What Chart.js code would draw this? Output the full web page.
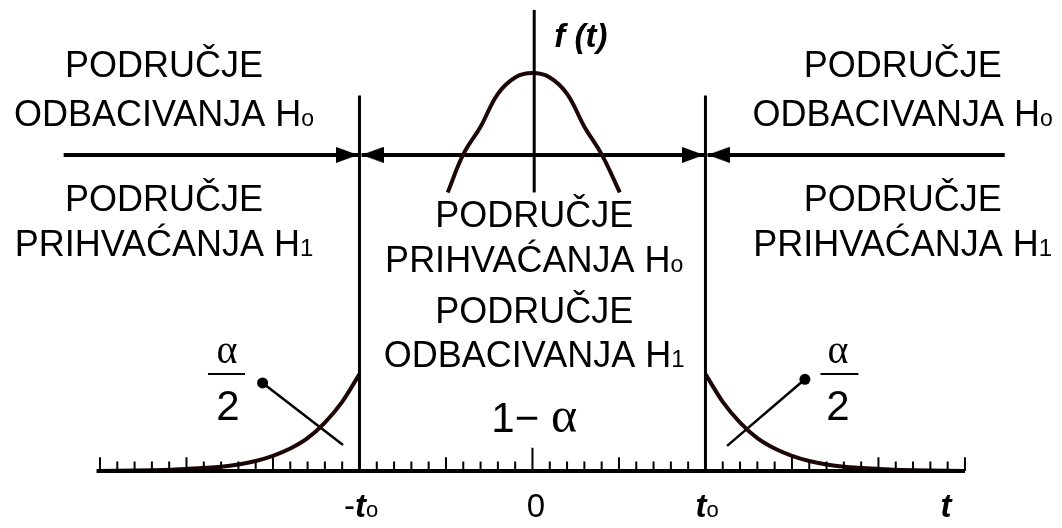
<!DOCTYPE html>
<html lang="hr">
<head>
    <meta charset="UTF-8">
    <title>Područje prihvaćanja i odbacivanja H0</title>
    <script src="https://cdn.jsdelivr.net/npm/chart.js"></script>
    <style>
        body { margin: 0; background: #fff; }
        #wrap { width: 1062px; height: 528px; }
    </style>
</head>
<body>
    <div id="wrap">
        <canvas id="tChart" width="1062" height="528"></canvas>
    </div>

    <script>
        // density curve (t in tick units, f in the same units)
        const centerT = [-4.9, -4, -3, -2, -1, 0, 1, 2, 3, 4, 5.05];
        const centerF = [16.1, 18.3, 19.9, 21.8, 22.75, 23.0, 22.75, 21.8, 19.9, 18.3, 16.1];

        const leftTailT = [-25, -22, -20, -18, -17, -16, -15, -14, -13, -12, -11, -10];
        const leftTailF = [0, 0.05, 0.12, 0.25, 0.38, 0.58, 0.88, 1.3, 1.9, 2.8, 4.0, 5.6];
        const rightTailT = [10, 11, 12, 13, 14, 15, 16, 17, 18, 20, 22, 25];
        const rightTailF = [5.6, 4.0, 2.8, 1.9, 1.3, 0.88, 0.58, 0.38, 0.25, 0.12, 0.05, 0];

        // critical values and axis
        const tCrit = [-10, 10];
        const axisRange = [-25.2, 25];
        const tickPos = [-25, -24, -23, -22, -21, -20, -19, -18, -17, -16, -15, -14, -13, -12, -11, -10,
            -9, -8, -7, -6, -5, -4, -3, -2, -1, 0, 1, 2, 3, 4, 5, 6, 7, 8, 9, 10,
            11, 12, 13, 14, 15, 16, 17, 18, 19, 20, 21, 22, 23, 24, 25];
        const majorTicks = [-25, -20, -15, -5, 5, 15, 20, 25];
        const tickLabels = ['-t', '0', 't', 't'];

        // region texts
        const regionWord = 'PODRUČJE';
        const rejectWord = 'ODBACIVANJA H';
        const acceptWord = 'PRIHVAĆANJA H';

        const chartFont = '"Liberation Sans", Arial, sans-serif';
        const fonts = {
            main: '36px ' + chartFont,
            sub: '23px ' + chartFont,
            sub1: '24px ' + chartFont,
            axis: '33px ' + chartFont,
            axisIt: 'italic bold 33px ' + chartFont,
            axisSub: '22px ' + chartFont,
            ft: 'italic bold 33px ' + chartFont,
            alpha: '40px "Liberation Serif", "DejaVu Serif", serif',
            two: '42px ' + chartFont,
            one: '42px ' + chartFont,
            alphaBig: '50px "Liberation Serif", "DejaVu Serif", serif'
        };

        // text placement (x centre, y baseline in chart units)
        const notes = [
            { x: -21.3, y: 22.75, parts: [[regionWord, 'main']] },
            { x: -21.3, y: 19.94, parts: [[rejectWord, 'main'], ['o', 'sub']] },
            { x: -21.3, y: 15.03, parts: [[regionWord, 'main']] },
            { x: -21.3, y: 12.43, parts: [[acceptWord, 'main'], ['1', 'sub1']] },
            { x: 21.4, y: 22.75, parts: [[regionWord, 'main']] },
            { x: 21.4, y: 19.94, parts: [[rejectWord, 'main'], ['o', 'sub']] },
            { x: 21.4, y: 15.03, parts: [[regionWord, 'main']] },
            { x: 21.4, y: 12.43, parts: [[acceptWord, 'main'], ['1', 'sub1']] },
            { x: 0.1, y: 14.1, parts: [[regionWord, 'main']] },
            { x: 0.1, y: 11.5, parts: [[acceptWord, 'main'], ['o', 'sub']] },
            { x: 0.1, y: 8.55, parts: [[regionWord, 'main']] },
            { x: 0.1, y: 6.01, parts: [[rejectWord, 'main'], ['1', 'sub1']] },
            { x: 0.1, y: 2.25, parts: [['1− ', 'one'], ['α', 'alphaBig']] },
            { x: 2.8, y: 24.5, parts: [['f (t)', 'ft']] },
            { x: -17.66, y: 6.24, parts: [['α', 'alpha']] },
            { x: -17.6, y: 2.95, parts: [['2', 'two']] },
            { x: 17.66, y: 6.24, parts: [['α', 'alpha']] },
            { x: 17.66, y: 2.95, parts: [['2', 'two']] },
            { x: -9.9, y: -2.66, parts: [['-', 'axis'], ['t', 'axisIt'], ['o', 'axisSub']] },
            { x: 0.2, y: -2.66, parts: [[tickLabels[1], 'axis']] },
            { x: 10.1, y: -2.66, parts: [['t', 'axisIt'], ['o', 'axisSub']] },
            { x: 23.9, y: -2.66, parts: [['t', 'axisIt']] }
        ];

        const ink = '#000';
        const curveInk = '#1c0606';

        function pts(xs, ys) {
            return xs.map((x, i) => ({ x: x, y: ys[i] }));
        }

        // arrow head as an image point style, tip at its centre
        function makeArrowHead() {
            const L = 22, H = 16;
            const c = document.createElement('canvas');
            c.width = L * 2;
            c.height = H;
            const g = c.getContext('2d');
            g.fillStyle = ink;
            g.beginPath();
            g.moveTo(0, 0);
            g.lineTo(L, H / 2);
            g.lineTo(0, H);
            g.closePath();
            g.fill();
            return c;
        }
        const arrowHead = makeArrowHead();

        const tickData = [];
        tickPos.forEach(t => {
            let h = majorTicks.includes(t) ? 0.8 : 0.55;
            if (t === 0) h = 1.35;
            tickData.push({ x: t, y: 0 }, { x: t, y: h }, { x: t, y: null });
        });

        const arrowY = 18.27;
        function lineSet(data, width, color, extra) {
            return Object.assign({
                data: data,
                showLine: true,
                borderColor: color,
                borderWidth: width,
                pointRadius: 0,
                fill: false,
                spanGaps: false
            }, extra || {});
        }

        const datasets = [
            lineSet([{ x: axisRange[0], y: 0 }, { x: axisRange[1], y: 0 }], 4, ink),
            lineSet(tickData, 2, ink),
            lineSet([{ x: tCrit[0], y: 0 }, { x: tCrit[0], y: 21.7 }], 3, ink),
            lineSet([{ x: tCrit[1], y: 0 }, { x: tCrit[1], y: 21.7 }], 3, ink),
            lineSet([{ x: 0.1, y: 16.1 }, { x: 0.1, y: 26.65 }], 3, ink),
            lineSet(pts(centerT, centerF), 4, curveInk, { tension: 0.4 }),
            lineSet(pts(leftTailT, leftTailF), 4, curveInk, { cubicInterpolationMode: 'monotone' }),
            lineSet(pts(rightTailT, rightTailF), 4, curveInk, { cubicInterpolationMode: 'monotone' }),
            // arrows
            lineSet([{ x: -27.1, y: arrowY }, { x: tCrit[0] - 0.08, y: arrowY }], 4, ink, {
                pointStyle: ['circle', arrowHead], pointRadius: [0, 5], pointRotation: [0, 0]
            }),
            lineSet([{ x: tCrit[0] + 0.12, y: arrowY }, { x: tCrit[1] - 0.08, y: arrowY }], 4, ink, {
                pointStyle: [arrowHead, arrowHead], pointRadius: [5, 5], pointRotation: [180, 0]
            }),
            lineSet([{ x: tCrit[1] + 0.12, y: arrowY }, { x: 27.3, y: arrowY }], 4, ink, {
                pointStyle: [arrowHead, 'circle'], pointRadius: [5, 0], pointRotation: [180, 0]
            }),
            // alpha/2 pointers
            lineSet([{ x: -15.6, y: 5.09 }, { x: -10.95, y: 1.5 }], 2.5, ink, {
                pointRadius: [5.5, 0], pointBackgroundColor: ink, pointBorderWidth: 0
            }),
            lineSet([{ x: 15.75, y: 5.3 }, { x: 11.25, y: 1.45 }], 2.5, ink, {
                pointRadius: [5.5, 0], pointBackgroundColor: ink, pointBorderWidth: 0
            }),
            // fraction bars
            lineSet([{ x: -18.76, y: 5.61 }, { x: -16.62, y: 5.61 }], 2, ink),
            lineSet([{ x: 16.65, y: 5.61 }, { x: 18.84, y: 5.61 }], 2, ink)
        ];

        const textPlugin = {
            id: 'richText',
            afterDatasetsDraw(chart) {
                const ctx = chart.ctx;
                const sx = chart.scales.x, sy = chart.scales.y;
                ctx.save();
                ctx.fillStyle = ink;
                ctx.textAlign = 'left';
                ctx.textBaseline = 'alphabetic';
                notes.forEach(n => {
                    let w = 0;
                    n.parts.forEach(p => { ctx.font = fonts[p[1]]; w += ctx.measureText(p[0]).width; });
                    let cx = sx.getPixelForValue(n.x) - w / 2;
                    const cy = sy.getPixelForValue(n.y);
                    n.parts.forEach(p => {
                        ctx.font = fonts[p[1]];
                        ctx.fillText(p[0], cx, cy);
                        cx += ctx.measureText(p[0]).width;
                    });
                });
                ctx.restore();
            }
        };

        new Chart(document.getElementById('tChart'), {
            type: 'scatter',
            data: { datasets: datasets },
            options: {
                responsive: false,
                animation: false,
                layout: { padding: 0, autoPadding: false },
                plugins: { legend: { display: false }, tooltip: { enabled: false } },
                scales: {
                    x: { type: 'linear', min: -30.78, max: 30.61, display: false },
                    y: { type: 'linear', min: -3.295, max: 27.225, display: false }
                }
            },
            plugins: [textPlugin]
        });
    </script>
</body>
</html>
